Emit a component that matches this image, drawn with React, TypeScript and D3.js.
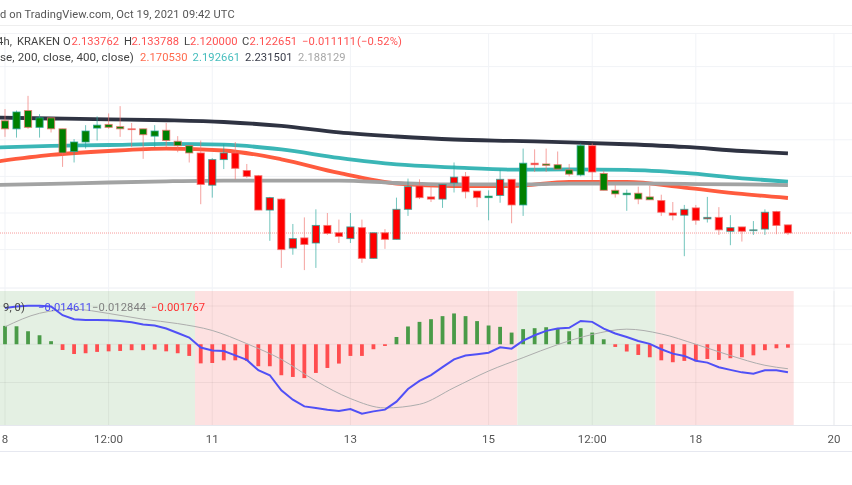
import * as d3 from "d3";

const W = 852;
const H = 485;

// candles, 4h bars
const opens = [2.276,2.265,2.290,2.267,2.280,2.265,2.234,2.247,2.266,2.271,2.268,2.265,2.265,2.255,2.263,2.248,2.242,2.232,2.188,2.223,2.232,2.208,2.201,2.154,2.169,2.102,2.116,2.109,2.133,2.123,2.115,2.130,2.088,2.123,2.114,2.155,2.187,2.172,2.169,2.191,2.200,2.180,2.171,2.174,2.196,2.161,2.218,2.217,2.216,2.209,2.202,2.242,2.204,2.181,2.175,2.177,2.172,2.167,2.150,2.147,2.157,2.142,2.144,2.125,2.131,2.126,2.128,2.152,2.1338];
const closes = [2.265,2.288,2.267,2.280,2.265,2.232,2.247,2.262,2.270,2.267,2.265,2.264,2.257,2.262,2.249,2.242,2.232,2.189,2.223,2.232,2.211,2.200,2.154,2.171,2.100,2.115,2.107,2.133,2.122,2.118,2.131,2.088,2.123,2.114,2.155,2.186,2.171,2.169,2.189,2.199,2.179,2.171,2.173,2.196,2.161,2.218,2.216,2.215,2.210,2.203,2.242,2.206,2.181,2.176,2.177,2.169,2.168,2.151,2.147,2.155,2.140,2.144,2.127,2.130,2.125,2.127,2.151,2.133,2.1227];
const highs = [2.292,2.290,2.310,2.285,2.280,2.265,2.251,2.270,2.282,2.286,2.296,2.273,2.265,2.270,2.273,2.255,2.242,2.249,2.225,2.244,2.247,2.217,2.202,2.172,2.170,2.135,2.144,2.155,2.150,2.141,2.150,2.141,2.123,2.128,2.171,2.197,2.196,2.187,2.189,2.219,2.206,2.180,2.181,2.209,2.196,2.238,2.237,2.238,2.234,2.217,2.245,2.245,2.208,2.188,2.182,2.186,2.187,2.175,2.165,2.161,2.161,2.172,2.158,2.147,2.131,2.139,2.155,2.153,2.1338];
const lows = [2.254,2.253,2.265,2.253,2.260,2.213,2.219,2.238,2.249,2.265,2.254,2.240,2.224,2.240,2.240,2.233,2.219,2.162,2.171,2.210,2.196,2.198,2.154,2.112,2.075,2.093,2.072,2.075,2.120,2.109,2.109,2.082,2.088,2.101,2.114,2.146,2.169,2.165,2.157,2.178,2.170,2.158,2.140,2.164,2.136,2.146,2.206,2.206,2.209,2.200,2.200,2.195,2.181,2.171,2.153,2.162,2.168,2.146,2.140,2.091,2.134,2.137,2.120,2.106,2.111,2.120,2.120,2.121,2.120];
// bars whose body is filled green, the rest are red
const greenBodies = [0,1,2,3,4,5,6,7,8,9,10,12,13,14,15,16,42,45,47,48,49,50,52,53,54,55,56];

// moving averages, read every few bars
const maBars = [-1,4,9,14,19,24,29,34,39,44,49,54,59,64,68];
const ma50 = [2.2197,2.2293,2.2347,2.2379,2.2354,2.2234,2.2047,2.1903,2.1869,2.1869,2.1924,2.1924,2.1846,2.176,2.1705];
const ma100 = [2.2395,2.2416,2.2429,2.2443,2.2433,2.2368,2.2252,2.2163,2.2122,2.2092,2.2095,2.2088,2.2047,2.1974,2.1927];
const ma200 = [2.2805,2.2791,2.278,2.2767,2.2743,2.2689,2.26,2.2545,2.2504,2.2484,2.2466,2.2439,2.2402,2.2347,2.2315];
const ma400 = [2.1883,2.1897,2.1917,2.1933,2.1942,2.1942,2.1942,2.191,2.189,2.189,2.1901,2.1903,2.1897,2.189,2.1881];

// macd pane
const macdHist = [.0096,.0094,.0068,.0047,.0016,-.003,-.0051,-.0047,-.004,-.0037,-.0035,-.0031,-.0031,-.0028,-.0037,-.0047,-.0061,-.01,-.0098,-.0084,-.0084,-.0087,-.0115,-.0115,-.0162,-.0171,-.0177,-.015,-.0124,-.0101,-.0061,-.0061,-.0026,-.0009,.0038,.0093,.0117,.0131,.0147,.0161,.0147,.0121,.0098,.0091,.0061,.0079,.0084,.0089,.0084,.0068,.0084,.0061,.0026,-.0014,-.0038,-.0056,-.0068,-.0084,-.0094,-.0087,-.0089,-.0077,-.0082,-.0073,-.0068,-.0058,-.0031,-.0021,-.0018];
const macdLine = [.019,.0197,.0201,.0201,.0197,.0152,.0131,.0127,.0127,.0126,.0122,.0115,.0103,.0098,.0082,.0059,.0035,-.0017,-.0033,-.0035,-.0058,-.0082,-.0136,-.0162,-.0241,-.029,-.0325,-.0333,-.0342,-.0349,-.0339,-.0363,-.0351,-.0342,-.03,-.0234,-.0192,-.0161,-.012,-.0079,-.0059,-.0052,-.0044,-.0016,-.0023,.0019,.0047,.007,.0082,.0086,.0122,.0117,.0082,.0056,.0038,.0017,.0002,-.0026,-.0049,-.0061,-.0086,-.0096,-.012,-.0134,-.0147,-.0154,-.0136,-.0136,-.0146];
const signalBars = [0,3,6,9,12,15,18,21,24,27,30,33,36,39,42,45,48,51,54,57,60,63,66,68];
const signalLine = [.0091,.0162,.0183,.0161,.0131,.0108,.0072,.0003,-.0079,-.0192,-.0284,-.0333,-.0314,-.0227,-.014,-.007,-.0002,.0051,.0079,.0054,0,-.0059,-.011,-.0128];
const shadeEdges = [-1,16.5,44.5,56.5,68.5];
const shadeKinds = ["up","down","up","down"];

// time axis
const tickBars = [0,9,18,30,42,51,60,72];
const tickLabels = ["8","12:00","11","13","15","12:00","18","20"];

const lastClose = 2.122651;

const x = d3.scaleLinear().domain([0, 72]).range([5, 834]);
const yPrice = d3.scaleLinear().domain([2.1, 2.35]).range([249.6, 66.6]);
const yMacd = d3.scaleLinear().domain([-0.02, 0.02]).range([382.5, 306]);

const PANE_TOP = 291;
const PANE_BOTTOM = 425;
const UP = "#26a69a";
const DOWN = "#f0706c";
const FONT = "Roboto, sans-serif";

function maPath(values: number[]) {
  return d3
    .line<number>()
    .x((_, i) => x(maBars[i]))
    .y((v) => yPrice(v))
    .curve(d3.curveMonotoneX)(values)!;
}

const maSeries = [
  { values: ma50, color: "#ff5b3e" },
  { values: ma100, color: "#3ab6b6" },
  { values: ma200, color: "#2f3342" },
  { values: ma400, color: "#a2a3a3" },
];

const legendRow1 = [
  { t: "4h,", x: -3, c: "#444" },
  { t: "KRAKEN", x: 17, c: "#444" },
  { t: "O", x: 63, c: "#444" },
  { t: "2.133762", x: 71.5, c: "#ff5252" },
  { t: "H", x: 124, c: "#444" },
  { t: "2.133788", x: 131.5, c: "#ff5252" },
  { t: "L", x: 184, c: "#444" },
  { t: "2.120000", x: 190, c: "#ff5252" },
  { t: "C", x: 242, c: "#444" },
  { t: "2.122651", x: 249.5, c: "#ff5252" },
  { t: "−0.011111", x: 302, c: "#ff5252" },
  { t: "(−0.52%)", x: 357, c: "#ff5252" },
];
const legendRow2 = [
  { t: "se, 200, close, 400, close)", x: 0, c: "#444", size: 11.6 },
  { t: "2.170530", x: 140, c: "#ff6a4d" },
  { t: "2.192661", x: 192.5, c: "#45bdbd" },
  { t: "2.231501", x: 245, c: "#3a3d4a" },
  { t: "2.188129", x: 298, c: "#a8a8a8" },
];
const macdRow = [
  { t: "9, 0)", x: 3, c: "#444" },
  { t: "−0.014611", x: 38, c: "#4a4af0" },
  { t: "−0.012844", x: 92, c: "#808080" },
  { t: "−0.001767", x: 151, c: "#ff3030" },
];

export default function App() {
  const histBase = yMacd(0);
  const macdPath = d3
    .line<number>()
    .x((_, i) => x(i))
    .y((v) => yMacd(v))
    .curve(d3.curveLinear)(macdLine)!;
  const signalPath = d3
    .line<number>()
    .x((_, i) => x(signalBars[i]))
    .y((v) => yMacd(v))
    .curve(d3.curveMonotoneX)(signalLine)!;

  return (
    <svg
      width={W}
      height={H}
      viewBox={`0 0 ${W} ${H}`}
      style={{ position: "fixed", left: 0, top: 0, background: "#fff", filter: "blur(0.45px)" }}
    >
      {/* chrome */}
      <line x1={0} x2={W} y1={25.5} y2={25.5} stroke="#eeeeee" />
      <line x1={0} x2={W} y1={33.5} y2={33.5} stroke="#f2f3f6" />
      <line x1={0} x2={W} y1={288} y2={288} stroke="#eceef3" />
      <line x1={0} x2={W} y1={425.5} y2={425.5} stroke="#e6e8ee" />
      <line x1={0} x2={W} y1={451.5} y2={451.5} stroke="#e6e8f0" />

      {/* grid */}
      {yPrice.ticks(5).map((p) => (
        <line key={p} x1={0} x2={W} y1={yPrice(p)} y2={yPrice(p)} stroke="#f1f3f7" />
      ))}
      {tickBars.map((b) => (
        <line key={b} x1={x(b)} x2={x(b)} y1={33} y2={PANE_BOTTOM} stroke="#f1f3f7" />
      ))}

      {/* macd shading */}
      {shadeKinds.map((k, i) => (
        <rect
          key={i}
          x={x(shadeEdges[i])}
          width={x(shadeEdges[i + 1]) - x(shadeEdges[i])}
          y={PANE_TOP}
          height={PANE_BOTTOM - PANE_TOP}
          fill={k === "up" ? "#e4f0e3" : "#fde1e1"}
        />
      ))}
      {[-0.02, 0, 0.02].map((v) => (
        <line key={v} x1={0} x2={W} y1={yMacd(v)} y2={yMacd(v)} stroke="#000" strokeOpacity={0.05} />
      ))}
      {tickBars.map((b) => (
        <line key={b} x1={x(b)} x2={x(b)} y1={PANE_TOP} y2={PANE_BOTTOM} stroke="#000" strokeOpacity={0.05} />
      ))}

      {/* last price */}
      <line
        x1={0}
        x2={W}
        y1={yPrice(lastClose)}
        y2={yPrice(lastClose)}
        stroke="#f79a9a"
        strokeDasharray="1 1"
      />

      {/* moving averages */}
      {maSeries.map((s) => (
        <path key={s.color} d={maPath(s.values)} fill="none" stroke={s.color} strokeWidth={3.8} />
      ))}

      {/* candles */}
      {opens.map((o, i) => {
        const c = closes[i];
        const edge = c > o ? UP : DOWN;
        const top = yPrice(Math.max(o, c));
        const bot = yPrice(Math.min(o, c));
        return (
          <g key={i}>
            <line
              x1={x(i)}
              x2={x(i)}
              y1={yPrice(highs[i])}
              y2={yPrice(lows[i])}
              stroke={edge}
              strokeOpacity={0.65}
              strokeWidth={1}
            />
            <rect
              x={x(i) - 3.6}
              width={7.2}
              y={top}
              height={Math.max(bot - top, 0.8)}
              fill={greenBodies.includes(i) ? "#008000" : "#ff0000"}
              stroke={edge}
              strokeOpacity={0.75}
              strokeWidth={1}
            />
          </g>
        );
      })}

      {/* macd */}
      {macdHist.map((v, i) => (
        <rect
          key={i}
          x={x(i) - 1.9}
          width={3.8}
          y={Math.min(yMacd(v), histBase)}
          height={Math.abs(yMacd(v) - histBase)}
          fill={v >= 0 ? "#4a9b48" : "#ff4d4f"}
        />
      ))}
      <path d={signalPath} fill="none" stroke="#adadad" strokeWidth={1} />
      <path d={macdPath} fill="none" stroke="#5050f6" strokeWidth={2} />

      {/* texts */}
      <g fontFamily={FONT} fontSize={11.2} letterSpacing={0.1}>
        <text x={0} y={18} fill="#555" fontSize={11.1}>
          d on TradingView.com, Oct 19, 2021 09:42 UTC
        </text>
        {legendRow1.map((d) => (
          <text key={d.t} x={d.x} y={44.5} fill={d.c}>{d.t}</text>
        ))}
        {legendRow2.map((d) => (
          <text key={d.t} x={d.x} y={61} fill={d.c} fontSize={d.size}>{d.t}</text>
        ))}
        {macdRow.map((d) => (
          <text key={d.t} x={d.x} y={310.5} fill={d.c}>{d.t}</text>
        ))}
        {tickBars.map((b, i) => (
          <text key={b} x={x(b)} y={443} fill="#555" fontSize={11.5} textAnchor="middle">
            {tickLabels[i]}
          </text>
        ))}
      </g>
    </svg>
  );
}
